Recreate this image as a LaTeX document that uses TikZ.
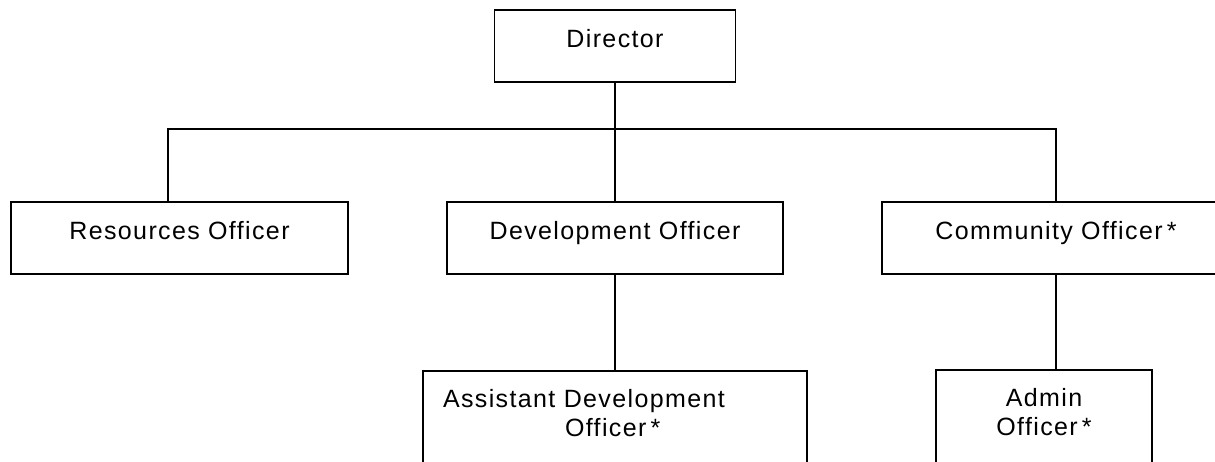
\documentclass[tikz,border=0pt]{standalone}
\usepackage{fontspec}
\newfontfamily\chartfont[LetterSpace=5.5]{Liberation Sans}
\begin{document}
\begin{tikzpicture}[x=1pt,y=-1pt,line width=1.8pt,line cap=rect,
  font=\chartfont\fontsize{25}{29}\selectfont,
  postbox/.style={draw,inner sep=0pt,minimum height=72pt,text height=37pt,text depth=35pt},
  lowbox/.style={draw,anchor=north,inner ysep=0pt,text height=37pt,text depth=80pt}]
\def \w{1215};
\def \h{461};
\useasboundingbox (0,0) rectangle (\w,\h);
\clip (0,0) rectangle (\w,\h);

\node[postbox,minimum width=241pt] (dir) at (615,46) {Director};
\foreach \n/\x/\b/\t in {res/179.5/337/Resources Officer,dev/615/336/Development Officer,comm/1056/348/Community Officer\,*}
  {\node[postbox,minimum width=\b pt] (\n) at (\x,238) {\t};}

\node[lowbox,inner xsep=20pt,text width=344pt,align=left] (asst) at (615,370)
  {Assistant Development\\\hspace*{122pt}Officer\,*};
\node[lowbox,inner xsep=0pt,text width=216pt,align=center] (adm) at (1044,369)
  {Admin\\Officer\,*};

\coordinate (busL) at (168,129);
\coordinate (busR) at (1056,129);
\draw (dir.south) -- (dir.south |- busL);
\draw (res.north -| busL) -- (busL) -- (busR) -- (comm.north);
\draw (dir.south |- busL) -- (dev.north);
\draw (dev.south) -- (asst.north);
\draw (comm.south) -- (comm.south |- adm.north);
\end{tikzpicture}
\end{document}
